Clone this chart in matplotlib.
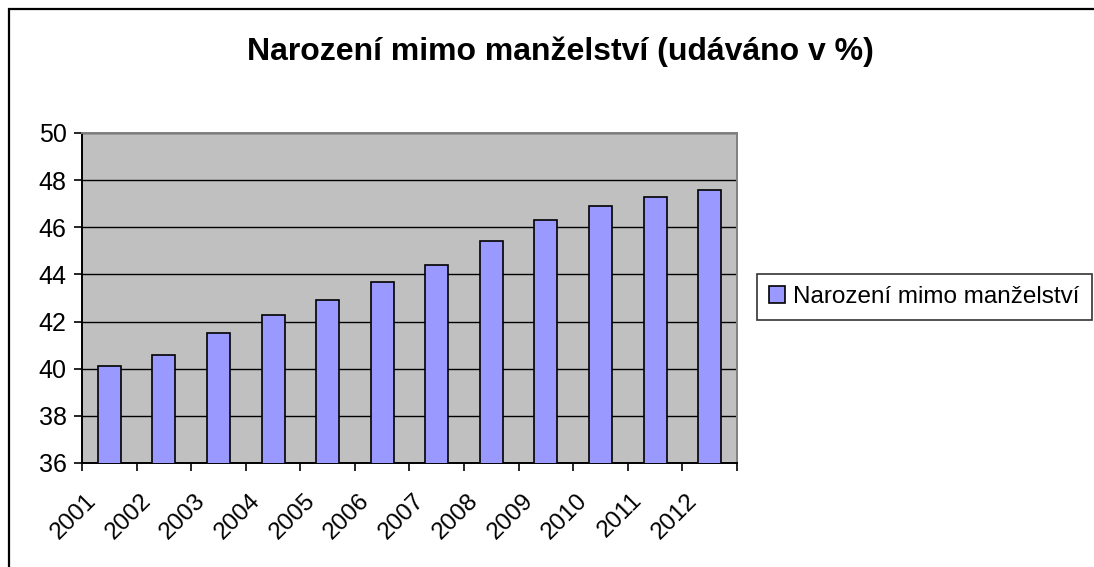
import matplotlib
matplotlib.use("Agg")
import matplotlib.pyplot as plt
from matplotlib.patches import Rectangle
from matplotlib.transforms import ScaledTranslation
import numpy as np

years = ["2001", "2002", "2003", "2004", "2005", "2006",
         "2007", "2008", "2009", "2010", "2011", "2012"]
values = [40.1, 40.6, 41.5, 42.3, 42.9, 43.7, 44.4, 45.4, 46.3, 46.9, 47.3, 47.6]
series_name = "Narození mimo manželství"
title = "Narození mimo manželství (udáváno v %)"
yticks = [36, 38, 40, 42, 44, 46, 48, 50]

plt.rcParams['font.family'] = ['Liberation Sans', 'DejaVu Sans']

fig = plt.figure(figsize=(10.94, 5.67), dpi=100)
fig.patch.set_facecolor("white")

# outer chart border (extends past right/bottom edges)
fig.patches.append(Rectangle((9/1094, -0.05), 1.2, 1 - 9/567 + 0.05,
                             transform=fig.transFigure, fill=False,
                             edgecolor="black", linewidth=1.6, zorder=0))

ax = fig.add_axes([82/1094, 1 - 463/567, (737 - 82)/1094, (463 - 133)/567])
ax.set_facecolor("#C0C0C0")

x = np.arange(len(years))
ax.bar(x, values, width=0.42, bottom=0, color="#9999FF",
       edgecolor="black", linewidth=1.2, label=series_name, zorder=3)

ax.set_xlim(-0.5, len(years) - 0.5)
ax.set_ylim(36, 50)
ax.set_yticks(yticks)
ax.set_yticklabels([str(t) for t in yticks], fontsize=18)
ax.yaxis.grid(True, color="black", linewidth=1.0, zorder=1)
ax.set_axisbelow(True)

ax.set_xticks(np.arange(-0.5, len(years), 1.0))
ax.set_xticklabels([])
ax.set_xticks(x, minor=True)
ax.set_xticklabels(years, minor=True, rotation=45, ha="right",
                   rotation_mode="anchor", fontsize=17.5)
ax.tick_params(axis="x", which="minor", length=0, pad=19)
ax.tick_params(axis="x", which="major", length=6, width=1.2, direction="out", color="black")
ax.tick_params(axis="y", length=6, width=1.2, direction="out", color="black", pad=5)
shift = ScaledTranslation(-24/100, 0, fig.dpi_scale_trans)
for lbl in ax.get_xticklabels(minor=True):
    lbl.set_transform(lbl.get_transform() + shift)

for side in ["left", "bottom"]:
    ax.spines[side].set_color("black")
    ax.spines[side].set_linewidth(1.4)
for side in ["top", "right"]:
    ax.spines[side].set_color("#808080")
    ax.spines[side].set_linewidth(1.4)

fig.text(560/1094, 1 - 52/567, title, ha="center", va="center",
         fontsize=23, fontweight="bold")

leg = fig.legend(loc="center left", bbox_to_anchor=(757/1094, 1 - 297/567),
                 fontsize=17.5, frameon=True, fancybox=False, shadow=False,
                 handlelength=0.65, handleheight=0.65, handletextpad=0.35,
                 borderpad=0.5, borderaxespad=0)
leg.get_frame().set_edgecolor("black")
leg.get_frame().set_linewidth(1.2)

fig.savefig("out.png", dpi=100, facecolor="white")
